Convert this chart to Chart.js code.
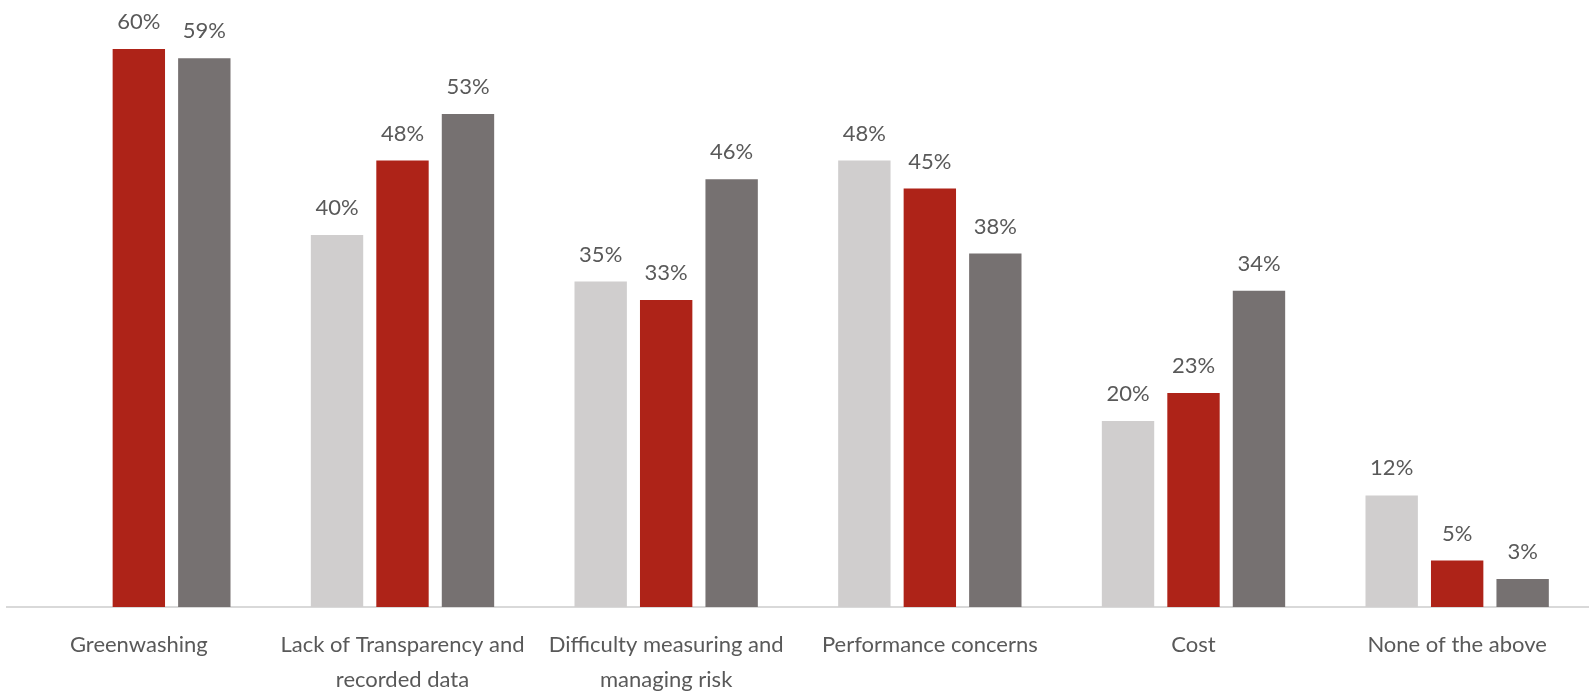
<!DOCTYPE html>
<html>
<head>
<meta charset="utf-8">
<script src="https://cdn.jsdelivr.net/npm/chart.js@4.4.1/dist/chart.umd.min.js"></script>
<style>
  html, body { margin: 0; padding: 0; background: #ffffff; }
  #wrap { position: relative; width: 1589px; height: 694px; }
</style>
</head>
<body>
<div id="wrap"><canvas id="chart"></canvas></div>
<script>
// Concerns about sustainable investing, share of respondents (%)
const categories = [
  'Greenwashing',
  ['Lack of Transparency and', 'recorded data'],
  ['Difficulty measuring and', 'managing risk'],
  'Performance concerns',
  'Cost',
  'None of the above'
];
const seriesNames = ['Wave 1', 'Wave 2', 'Wave 3'];
const wave1 = [null, 40, 35, 48, 20, 12];
const wave2 = [60, 48, 33, 45, 23, 5];
const wave3 = [59, 53, 46, 38, 34, 3];
const seriesColors = ['#D0CECE', '#AE2318', '#767171'];

const FONT = 'Lato, "Open Sans", "Noto Sans", sans-serif';

// Percentage labels above each bar, placed from the bar elements themselves
const valueLabels = {
  id: 'valueLabels',
  afterDatasetsDraw(chart) {
    const ctx = chart.ctx;
    ctx.save();
    ctx.font = '22px ' + FONT;
    ctx.fillStyle = '#595959';
    ctx.textAlign = 'center';
    ctx.textBaseline = 'alphabetic';
    chart.data.datasets.forEach((ds, di) => {
      const meta = chart.getDatasetMeta(di);
      meta.data.forEach((bar, i) => {
        const v = ds.data[i];
        if (v === null || v === undefined) return;
        ctx.fillText(v + '%', bar.x, bar.y - 20);
      });
    });
    ctx.restore();
  }
};

new Chart(document.getElementById('chart'), {
  type: 'bar',
  data: {
    labels: categories,
    datasets: [wave1, wave2, wave3].map((d, k) => ({
      label: seriesNames[k],
      data: d,
      backgroundColor: seriesColors[k],
      borderWidth: 0,
      categoryPercentage: 0.745,
      barPercentage: 0.8
    }))
  },
  options: {
    responsive: true,
    maintainAspectRatio: false,
    animation: false,
    layout: { padding: { left: 7, right: -4, top: 2.5, bottom: 0 } },
    plugins: {
      legend: { display: false },
      tooltip: { enabled: false }
    },
    scales: {
      x: {
        grid: { display: false, drawTicks: false },
        border: { display: true, color: '#D9D9D9', width: 2 },
        ticks: {
          color: '#595959',
          font: { family: FONT, size: 22, lineHeight: 1.6 },
          padding: 20,
          maxRotation: 0,
          autoSkip: false
        },
        afterFit(scale) { scale.height = 87; }
      },
      y: {
        display: false,
        min: 0,
        max: 65
      }
    }
  },
  plugins: [valueLabels]
});
</script>
</body>
</html>
